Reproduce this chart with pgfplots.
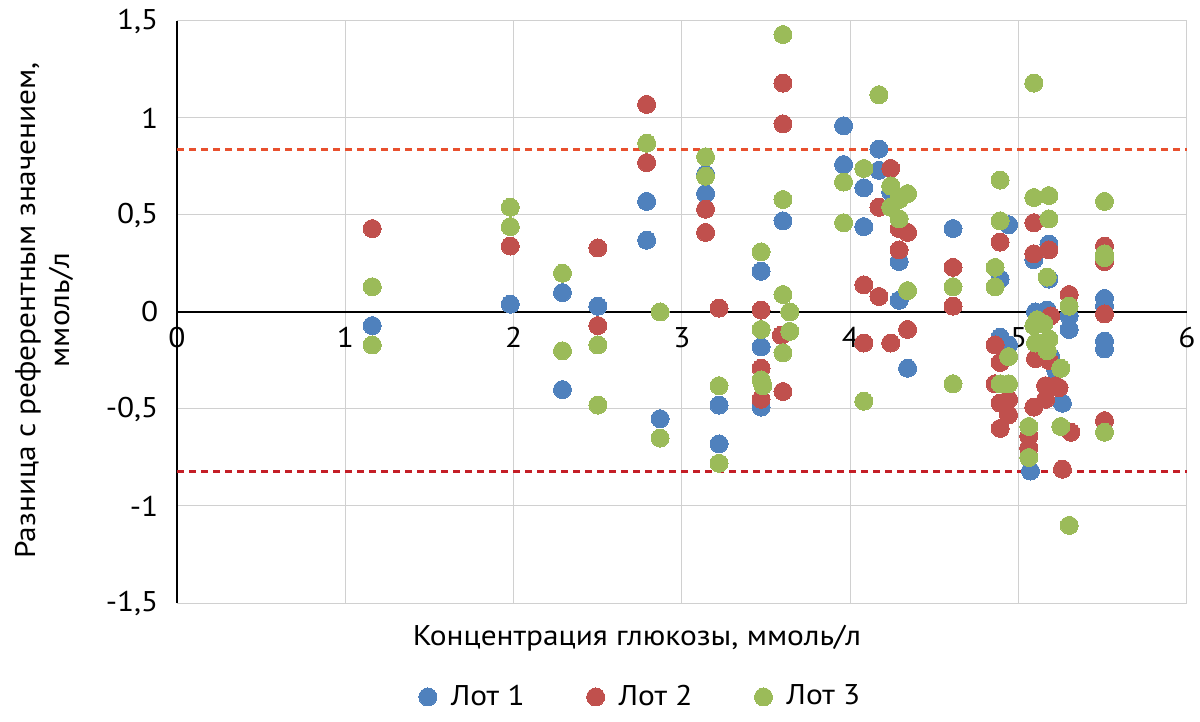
\documentclass[border=0pt]{standalone}
\usepackage{fontspec}
\setmainfont[FakeStretch=1.1]{PT Sans}
\usepackage{pgfplots}
\pgfplotsset{compat=1.18}
\definecolor{lotA}{HTML}{4F81BD}
\definecolor{lotB}{HTML}{C0504D}
\definecolor{lotC}{HTML}{9BBB59}
\definecolor{limtop}{HTML}{E8502E}
\definecolor{limbot}{HTML}{C41E26}
\definecolor{gridc}{HTML}{D0D0D0}
\begin{document}
\fontsize{28.5bp}{34bp}\selectfont
\begin{tikzpicture}
\useasboundingbox (0,0) rectangle (1200bp,722bp);
\begin{axis}[
  at={(177bp,119bp)}, anchor=south west,
  scale only axis, width=1010bp, height=582bp,
  xmin=0, xmax=6, ymin=-1.5, ymax=1.5,
  axis x line*=middle, axis y line*=left,
  x axis line style={draw=none},
  y axis line style={black, line width=1.8bp},
  hide obscured x ticks=false, hide obscured y ticks=false,
  xtick={0,1,2,3,4,5,6},
  xticklabels={0,1,2,3,4,5,6},
  ytick={-1.5,-1,-0.5,0,0.5,1,1.5},
  yticklabels={{-1,5},{-1},{-0,5},{0},{0,5},{1},{1,5}},
  major tick length=0pt,
  grid=major,
  major grid style={gridc, line width=1bp},
  xticklabel style={yshift=-6bp},
  yticklabel style={xshift=-9bp},
  xlabel={Концентрация глюкозы, ммоль/л},
  xlabel style={at={(axis description cs:0.4554,-0.0601)}, anchor=center},
  ylabel={Разница с референтным значением,\\ммоль/л},
  ylabel style={at={(axis description cs:-0.1317,0.503)}, anchor=center, align=center},
  legend columns=3,
  legend style={at={(axis description cs:0.458,-0.1615)}, anchor=center, draw=none, fill=none,
    /tikz/every even column/.append style={column sep=62bp},
    nodes={inner sep=0bp, anchor=west}},
  legend image code/.code={\draw[#1] plot coordinates {(9bp,0bp)}; \path[draw=none] (0bp,0bp) -- (32bp,0bp);},
  clip=false,
]
\addplot[forget plot, limtop, line width=3bp, dash pattern=on 7bp off 5bp] coordinates {(0,0.84) (6,0.84)};
\addplot[forget plot, limbot, line width=3bp, dash pattern=on 7bp off 5bp] coordinates {(0,-0.82) (6,-0.82)};
\addplot[forget plot, black, line width=1.8bp] coordinates {(0,0) (6,0)};
\addplot[only marks, color=lotA, mark=*, mark size=9bp, mark options={fill=lotA, draw=lotA, line width=0pt}] coordinates {
(1.16,-0.07) (1.98,0.04) (2.29,0.10) (2.29,-0.40) (2.50,0.03)
(2.79,0.57) (2.79,0.37) (2.87,-0.55) (3.14,0.71) (3.14,0.61)
(3.22,-0.48) (3.22,-0.68) (3.47,0.21) (3.47,-0.18) (3.47,-0.49)
(3.60,0.47) (3.96,0.96) (3.96,0.76) (4.08,0.64) (4.08,0.44)
(4.17,0.84) (4.17,0.73) (4.24,0.62) (4.29,0.26) (4.29,0.06)
(4.34,-0.29) (4.61,0.43) (4.94,0.45) (4.89,0.17) (4.89,-0.13)
(4.94,-0.17) (5.09,0.27) (5.10,0.00) (5.07,-0.82) (5.17,0.01)
(5.18,0.35) (5.18,0.17) (5.19,-0.23) (5.22,-0.30) (5.26,-0.47)
(5.30,-0.02) (5.30,-0.09) (5.51,0.07) (5.51,0.03) (5.51,-0.15)
(5.51,-0.19)
};
\addlegendentry{Лот 1}
\addplot[only marks, color=lotB, mark=*, mark size=9bp, mark options={fill=lotB, draw=lotB, line width=0pt}] coordinates {
(1.16,0.43) (1.98,0.34) (2.50,0.33) (2.50,-0.07) (2.79,1.07)
(2.79,0.77) (3.14,0.53) (3.14,0.41) (3.22,0.02) (3.47,0.01)
(3.47,-0.29) (3.47,-0.45) (3.60,1.18) (3.60,0.97) (3.59,-0.12)
(3.60,-0.41) (4.08,0.14) (4.08,-0.16) (4.17,0.54) (4.17,0.08)
(4.24,0.74) (4.24,-0.16) (4.29,0.43) (4.34,0.41) (4.29,0.32)
(4.34,-0.09) (4.61,0.23) (4.61,0.03) (4.89,0.36) (4.86,-0.17)
(4.89,-0.26) (4.86,-0.37) (4.89,-0.47) (4.94,-0.45) (4.94,-0.53)
(4.89,-0.60) (5.09,0.46) (5.09,0.30) (5.10,-0.24) (5.09,-0.49)
(5.06,-0.64) (5.06,-0.70) (5.18,0.32) (5.19,-0.02) (5.18,-0.25)
(5.16,-0.38) (5.16,-0.45) (5.22,-0.38) (5.24,-0.39) (5.26,-0.81)
(5.30,0.09) (5.31,-0.62) (5.51,0.34) (5.51,0.26) (5.51,-0.01)
(5.51,-0.56)
};
\addlegendentry{Лот 2}
\addplot[only marks, color=lotC, mark=*, mark size=9bp, mark options={fill=lotC, draw=lotC, line width=0pt}] coordinates {
(1.16,0.13) (1.16,-0.17) (1.98,0.54) (1.98,0.44) (2.29,0.20)
(2.29,-0.20) (2.50,-0.17) (2.50,-0.48) (2.79,0.87) (2.87,0.00)
(2.87,-0.65) (3.14,0.80) (3.14,0.70) (3.22,-0.38) (3.22,-0.78)
(3.47,0.31) (3.47,-0.09) (3.47,-0.35) (3.48,-0.38) (3.60,1.43)
(3.60,0.58) (3.60,0.09) (3.60,-0.21) (3.64,0.00) (3.64,-0.10)
(3.96,0.67) (3.96,0.46) (4.08,0.74) (4.08,-0.46) (4.17,1.12)
(4.24,0.65) (4.24,0.54) (4.34,0.61) (4.29,0.58) (4.29,0.48)
(4.34,0.11) (4.61,0.13) (4.61,-0.37) (4.89,0.68) (4.89,0.47)
(4.86,0.23) (4.86,0.13) (4.94,-0.23) (4.89,-0.37) (4.94,-0.37)
(5.09,1.18) (5.09,0.59) (5.09,-0.07) (5.11,-0.04) (5.10,-0.16)
(5.06,-0.59) (5.06,-0.75) (5.18,0.60) (5.18,0.48) (5.17,0.18)
(5.15,-0.06) (5.18,-0.14) (5.17,-0.20) (5.14,-0.16) (5.25,-0.29)
(5.25,-0.59) (5.30,0.03) (5.30,-1.10) (5.51,0.57) (5.51,0.30)
(5.51,0.28) (5.51,-0.62)
};
\addlegendentry{Лот 3}
\end{axis}
\end{tikzpicture}
\end{document}
